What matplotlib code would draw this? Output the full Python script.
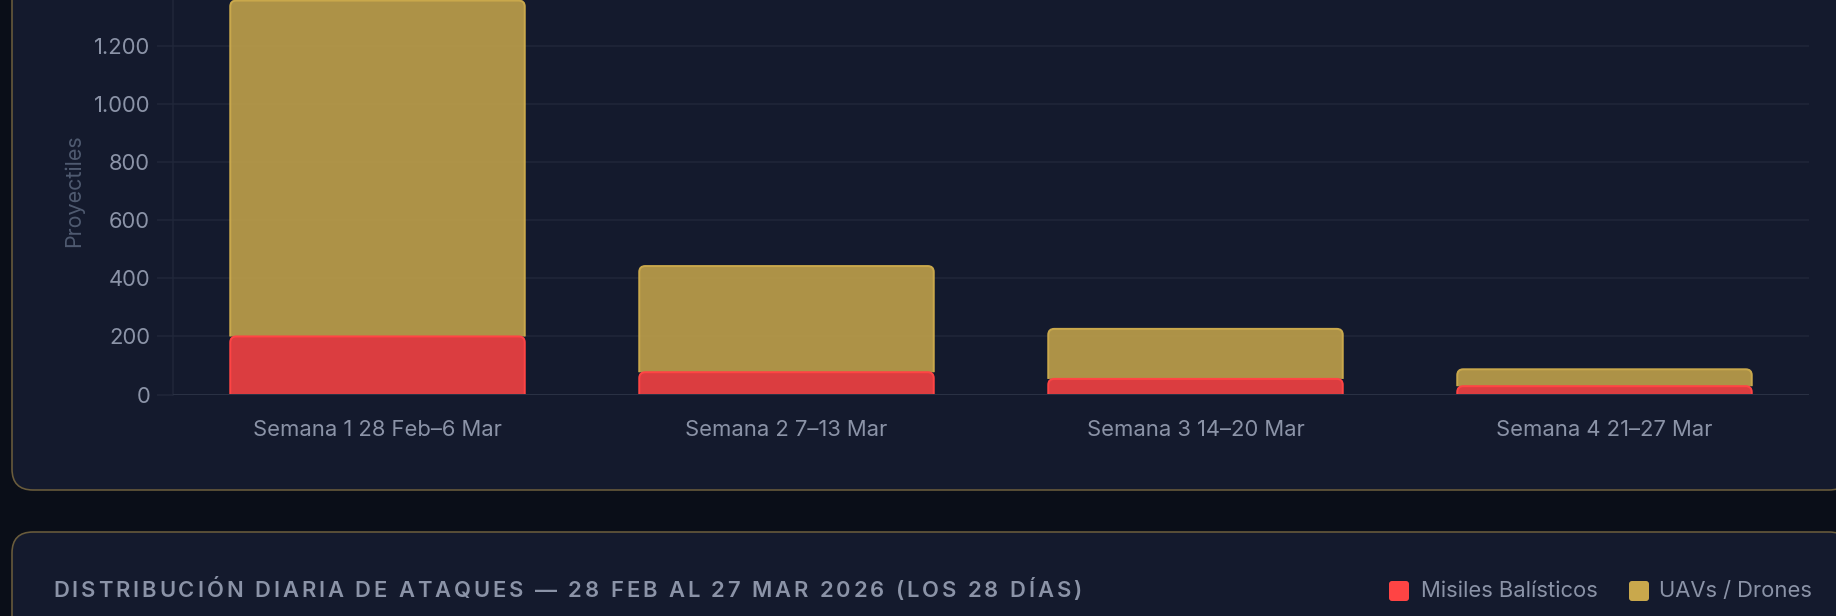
import matplotlib
matplotlib.use("Agg")
import matplotlib.pyplot as plt
from matplotlib.patches import FancyBboxPatch, PathPatch
from matplotlib.path import Path
from matplotlib import font_manager
from matplotlib.ft2font import FT2Font

# data
weeks = ["Semana 1 28 Feb–6 Mar", "Semana 2 7–13 Mar", "Semana 3 14–20 Mar", "Semana 4 21–27 Mar"]
ballistic = [200, 77, 54, 29]
drones = [1155, 365, 172, 58]
y_max = 1400
y_ticks = [0, 200, 400, 600, 800, 1000, 1200]
y_tick_labels = ["0", "200", "400", "600", "800", "1.000", "1.200"]
series_names = ["Misiles Balísticos", "UAVs / Drones"]
y_title = "Proyectiles"
section_title = "DISTRIBUCIÓN DIARIA DE ATAQUES — 28 FEB AL 27 MAR 2026 (LOS 28 DÍAS)"

W, H = 1836, 616
PAGE = "#0a0e18"
CARD = "#141a2d"
CARD_EDGE = "#6a5c3c"
GRID = "#20273a"
AXIS = "#2a3144"
TICK_TXT = "#8b93a7"
LABEL_TXT = "#4f5a70"
RED = "#ff4444"
GOLD = "#c9a84c"
FILL_ALPHA = 0.85

px = lambda v: v * 0.72  # pixels -> points at dpi 100

plt.rcParams["font.family"] = ["Inter", "DejaVu Sans"]

fig = plt.figure(figsize=(W / 100, H / 100), dpi=100, facecolor=PAGE)

# page layer in pixel coordinates (cards, title, legend)
bg = fig.add_axes([0, 0, 1, 1])
bg.set_xlim(0, W)
bg.set_ylim(H, 0)
bg.axis("off")
for top, bottom in [(-60, 490), (532, 700)]:
    bg.add_patch(FancyBboxPatch((12, top), 1850 - 12, bottom - top,
                                boxstyle="round,pad=0,rounding_size=21",
                                facecolor=CARD, edgecolor=CARD_EDGE, linewidth=px(1.6)))

# bar chart
ax = fig.add_axes([173 / W, (H - 394.6) / H, (1809 - 173) / W, (394.6 + 12.5) / H])
ax.set_facecolor("none")
ax.set_xlim(-0.5, len(weeks) - 0.5)
ax.set_ylim(0, y_max)

xs = list(range(len(weeks)))
bar_w = 0.72
b1 = ax.bar(xs, ballistic, width=bar_w)
b2 = ax.bar(xs, drones, bottom=ballistic, width=bar_w)

ax_w_px = (1809 - 173)
ax_h_px = 394.6 + 12.5
radius = 6
rx = radius * (len(weeks)) / ax_w_px
ry = radius * y_max / ax_h_px


def rounded_top(rect, color):
    x0, y0 = rect.get_x(), rect.get_y()
    x1, y1 = x0 + rect.get_width(), y0 + rect.get_height()
    r_y = min(ry, rect.get_height())
    verts = [(x0, y0), (x0, y1 - r_y), (x0, y1), (x0 + rx, y1),
             (x1 - rx, y1), (x1, y1), (x1, y1 - r_y), (x1, y0)]
    codes = [Path.MOVETO, Path.LINETO, Path.CURVE3, Path.CURVE3,
             Path.LINETO, Path.CURVE3, Path.CURVE3, Path.LINETO]
    fill = Path(verts + [(x0, y0)], codes + [Path.CLOSEPOLY])
    ax.add_patch(PathPatch(fill, facecolor=color, alpha=FILL_ALPHA, edgecolor="none", zorder=2))
    ax.add_patch(PathPatch(Path(verts, codes), facecolor="none", edgecolor=color,
                           linewidth=px(2), zorder=2.1))
    rect.set_visible(False)


for r in b1:
    rounded_top(r, RED)
for r in b2:
    rounded_top(r, GOLD)

ax.set_yticks(y_ticks, y_tick_labels)
ax.set_xticks(xs, weeks)
ax.tick_params(axis="y", length=px(16), width=px(1.5), color=GRID, pad=px(7),
               labelsize=px(22), labelcolor=TICK_TXT)
ax.tick_params(axis="x", length=0, pad=px(25), labelsize=px(22), labelcolor=TICK_TXT)
ax.yaxis.grid(True, color=GRID, linewidth=px(1.5))
ax.set_axisbelow(True)
for s in ["top", "right", "bottom"]:
    ax.spines[s].set_visible(False)
ax.spines["left"].set_color(GRID)
ax.spines["left"].set_linewidth(px(1.5))
ax.axhline(0, color=AXIS, linewidth=px(2), zorder=3)

ax.set_ylabel(y_title, color=LABEL_TXT, fontsize=px(21.5))
ax.yaxis.set_label_coords((73.5 - 173) / ax_w_px, 0.5)
ax.yaxis.label.set_va("center")

# section title with letter spacing
title_size = 22
title_prop = font_manager.FontProperties(family="Inter", weight="semibold")
ft = FT2Font(font_manager.findfont(title_prop))
ft.set_size(px(title_size), 100)
spacing = 2.93
cx = 53
for ch in section_title:
    bg.text(cx, 597, ch, fontsize=px(title_size), fontweight="semibold",
            color=TICK_TXT, ha="left", va="baseline")
    cx += ft.load_char(ord(ch)).linearHoriAdvance / 65536 + spacing

# legend of the daily chart
for (sx, tx), name, color in zip([(1389, 1421), (1629, 1659)], series_names, [RED, GOLD]):
    bg.add_patch(FancyBboxPatch((sx, 581), 20, 20, boxstyle="round,pad=0,rounding_size=3",
                                facecolor=color, edgecolor="none"))
    bg.text(tx, 597, name, fontsize=px(22), color=TICK_TXT, ha="left", va="baseline")

fig.savefig("out.png", dpi=100, facecolor=PAGE)
